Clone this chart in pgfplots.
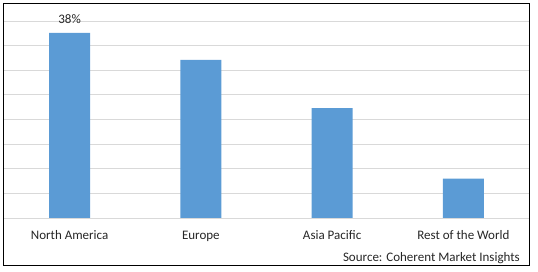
\documentclass[border=0pt]{standalone}
\usepackage{pgfplots}
\pgfplotsset{compat=1.18}
\usepackage{fontspec}
\setmainfont{Carlito}
\definecolor{barblue}{HTML}{5B9BD5}
\definecolor{gridgray}{HTML}{D9D9D9}
\definecolor{txt}{HTML}{262626}
\begin{document}
\begin{tikzpicture}[x=1pt,y=1pt]
\useasboundingbox (-4,-54) rectangle (534,218);
\begin{axis}[
  at={(0pt,0pt)}, anchor=south west,
  scale only axis, width=525pt, height=197pt,
  xmin=-0.5, xmax=3.5, ymin=0, ymax=40,
  axis line style={draw=none},
  ymajorgrids, grid style={gridgray, line width=0.8pt},
  ytick={0,5,...,40}, yticklabels={},
  xtick={0,1,2,3},
  xticklabels={North America, Europe, Asia Pacific, Rest of the World},
  major tick length=0pt,
  tick label style={font=\fontsize{13}{15}\selectfont, text=txt},
  xticklabel style={anchor=base, yshift=-22pt, inner sep=0pt},
  ybar, bar width=41pt,
  point meta=explicit symbolic,
  nodes near coords,
  nodes near coords style={font=\fontsize{13}{15}\selectfont, text=txt, anchor=base, yshift=9pt, inner sep=0pt},
]
\addplot[fill=barblue, draw=none] coordinates {(0,37.6)[38\%] (1,32.1)[] (2,22.3)[] (3,8.0)[]};
\end{axis}
\draw[black, line width=1pt] (0,-48) rectangle (525,214);
\node[anchor=base east, inner sep=0pt, text=txt, font=\fontsize{13}{15}\selectfont] at (516,-43.3) {Source: Coherent Market Insights};
\end{tikzpicture}
\end{document}
